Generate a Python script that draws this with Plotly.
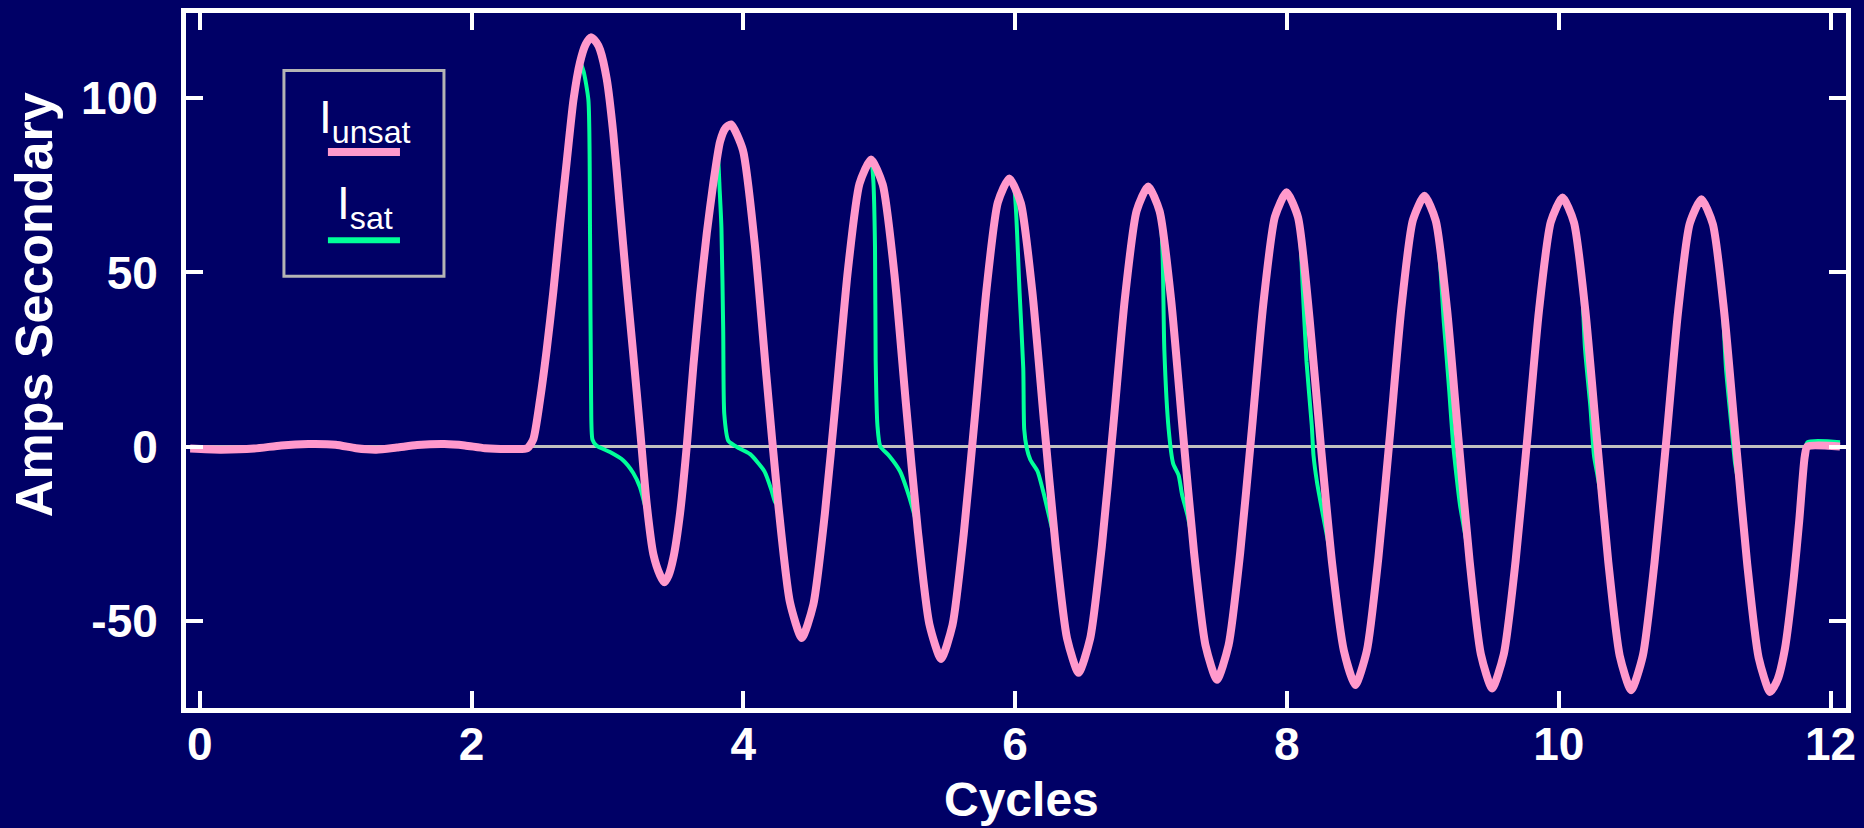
import plotly.graph_objects as go

# ---------------- data ----------------
# unsaturated secondary current (pink)
cycles_unsat = [
    -0.07, 0.15, 0.4, 0.6, 0.8, 1.0, 1.15, 1.3, 1.45, 1.6, 1.8, 1.95, 2.1, 2.3, 2.41,
    2.454, 2.504, 2.553, 2.602, 2.651, 2.70, 2.75, 2.798, 2.84, 2.878,
    2.92, 2.946, 2.995, 3.043, 3.092, 3.141, 3.19, 3.24, 3.289, 3.338, 3.387, 3.419,
    3.45, 3.485, 3.535, 3.584, 3.632, 3.681, 3.731, 3.779, 3.829, 3.87, 3.91,
    3.997, 4.083, 4.17, 4.257, 4.343, 4.43,
    4.515, 4.6, 4.685, 4.77, 4.855, 4.94,
    5.026, 5.112, 5.197, 5.283, 5.369, 5.455,
    5.539, 5.622, 5.706, 5.790, 5.873, 5.957,
    6.042, 6.127, 6.212, 6.297, 6.382, 6.467,
    6.552, 6.638, 6.723, 6.808, 6.894, 6.979,
    7.063, 7.148, 7.232, 7.316, 7.401, 7.485,
    7.570, 7.656, 7.741, 7.826, 7.912, 7.997,
    8.081, 8.166, 8.25, 8.334, 8.419, 8.503,
    8.588, 8.673, 8.758, 8.842, 8.927, 9.012,
    9.095, 9.178, 9.261, 9.344, 9.427, 9.51,
    9.596, 9.683, 9.769, 9.855, 9.942, 10.028,
    10.112, 10.196, 10.281, 10.365, 10.449, 10.533,
    10.619, 10.705, 10.792, 10.878, 10.964, 11.05,
    11.134, 11.218, 11.303, 11.387, 11.471, 11.555,
    11.61, 11.665, 11.73, 11.77, 11.81, 11.83, 12.07,
]
amps_unsat = [
    -0.6, -0.9, -0.6, 0.3, 0.7, 0.5, -0.5, -0.9, -0.3, 0.4, 0.7, 0.3, -0.5, -0.7, -0.5,
    2.0, 13.4, 27.7, 44.5, 63.6, 81.6, 99.5, 110.3, 115.5, 117.5,
    116.0, 113.9, 105.5, 90.0, 68.4, 46.9, 26.5, 5.0, -16.5, -30.9, -36.9, -39.0,
    -37.0, -32.0, -19.0, 0.2, 23.0, 43.3, 61.2, 75.6, 87.6, 91.5, 92.5,
    85.1, 58.6, 20.2, -16.6, -44.7, -55.0,
    -45.4, -19.3, 15.1, 50.8, 75.5, 82.4,
    75.2, 49.4, 12.1, -23.7, -51.0, -61.0,
    -51.3, -25.1, 9.4, 45.3, 70.1, 77.0,
    69.9, 44.3, 7.4, -28.1, -55.1, -65.0,
    -55.2, -28.7, 6.2, 42.6, 67.7, 74.7,
    67.6, 42.1, 5.3, -30.2, -57.1, -67.0,
    -57.2, -30.6, 4.4, 40.8, 66.0, 73.0,
    65.9, 37.0, 0.0, -34.0, -58.6, -68.5,
    -58.7, -32.0, 3.2, 39.7, 65.0, 72.0,
    64.9, 39.5, 2.7, -32.7, -59.6, -69.5,
    -59.6, -32.8, 2.4, 39.1, 64.5, 71.5,
    64.4, 39.0, 2.2, -33.2, -60.1, -70.0,
    -60.1, -33.3, 1.9, 38.6, 64.0, 71.0,
    63.9, 38.5, 1.7, -33.7, -60.6, -70.5,
    -67.0, -58.0, -37.6, -21.3, -3.0, 0.0, 0.0,
]

# saturated secondary current (green): where it departs from the unsaturated wave
sat_cycles_1 = [2.823, 2.86, 2.872, 2.88, 2.89, 2.921, 3.019, 3.117, 3.19, 3.24, 3.277, 3.30]
sat_amps_1 = [108.0, 99.5, 61.2, 13.4, 2.0, 0.2, -1.6, -4.0, -7.6, -11.7, -17.0, -20.0]
sat_cycles_2 = [3.812, 3.826, 3.839, 3.852, 3.86, 3.89, 3.97, 4.05, 4.155, 4.207, 4.235]
sat_amps_2 = [83.0, 73.6, 62.7, 33.3, 9.3, 1.6, -0.5, -2.2, -7.1, -12.5, -16.0]
sat_cycles_3 = [4.956, 4.969, 4.974, 4.987, 5.008, 5.074, 5.153, 5.205, 5.24]
sat_amps_3 = [76.9, 57.3, 24.5, 6.0, 0.0, -2.7, -7.1, -12.5, -17.0]
sat_cycles_4 = [5.99, 6.006, 6.033, 6.06, 6.067, 6.086, 6.112, 6.165, 6.204, 6.25]
sat_amps_4 = [75.0, 68.2, 44.2, 22.4, 4.9, -0.5, -3.8, -7.1, -12.5, -20.0]
sat_cycles_5 = [7.085, 7.098, 7.13, 7.163, 7.203, 7.228, 7.27]
sat_amps_5 = [55.1, 27.8, 4.9, -4.9, -8.2, -13.7, -20.0]
sat_cycles_6 = [8.118, 8.144, 8.183, 8.196, 8.222, 8.262]
sat_amps_6 = [44.2, 24.5, 6.0, -2.7, -10.4, -19.0]
sat_cycles_7 = [9.155, 9.195, 9.221, 9.247, 9.274]
sat_amps_7 = [35.5, 15.8, 1.6, -8.2, -16.9]
sat_cycles_8 = [10.17, 10.194, 10.233, 10.26, 10.285, 10.31]
sat_amps_8 = [46.0, 27.8, 11.5, -2.7, -8.2, -14.0]
sat_cycles_9 = [11.2, 11.231, 11.271, 11.298, 11.33]
sat_amps_9 = [44.0, 22.4, 6.0, -4.9, -12.0]
sat_cycles_end = [11.83, 12.07]
sat_amps_end = [1.2, 1.2]

x_ticks = [0, 2, 4, 6, 8, 10, 12]
x_tick_labels = ["0", "2", "4", "6", "8", "10", "12"]
y_ticks = [-50, 0, 50, 100]
y_tick_labels = ["-50", "0", "50", "100"]

# ---------------- build the saturated series ----------------
sat_segments = [
    (sat_cycles_1, sat_amps_1), (sat_cycles_2, sat_amps_2), (sat_cycles_3, sat_amps_3),
    (sat_cycles_4, sat_amps_4), (sat_cycles_5, sat_amps_5), (sat_cycles_6, sat_amps_6),
    (sat_cycles_7, sat_amps_7), (sat_cycles_8, sat_amps_8), (sat_cycles_9, sat_amps_9),
    (sat_cycles_end, sat_amps_end),
]
pts = list(zip(cycles_unsat, amps_unsat))
for sx, sy in sat_segments:
    lo, hi = sx[0], sx[-1]
    pts = [p for p in pts if p[0] < lo or p[0] > hi] + list(zip(sx, sy))
pts.sort()
cycles_sat = [p[0] for p in pts]
amps_sat = [p[1] for p in pts]

PINK = "#FF99CC"
GREEN = "#00FF99"
BG = "#000066"
FONT = "Liberation Sans, Arial, sans-serif"

fig = go.Figure()
fig.add_trace(go.Scatter(x=cycles_sat, y=amps_sat, mode="lines", name="Isat",
                         line=dict(color=GREEN, width=4, shape="spline", smoothing=0.6),
                         hoverinfo="skip"))
fig.add_trace(go.Scatter(x=cycles_unsat, y=amps_unsat, mode="lines", name="Iunsat",
                         line=dict(color=PINK, width=8, shape="spline", smoothing=0.6),
                         hoverinfo="skip"))

axis_common = dict(
    ticks="inside", ticklen=17, tickwidth=4, tickcolor="white",
    showline=True, linewidth=5, linecolor="white", mirror="ticks",
    showgrid=False,
    tickfont=dict(family=FONT, size=46, color="white", weight="bold"),
)

fig.update_layout(
    width=1864, height=828,
    margin=dict(l=186, r=18, t=8, b=120),
    paper_bgcolor=BG, plot_bgcolor=BG,
    showlegend=False,
    font=dict(family=FONT, color="white"),
    xaxis=dict(range=[-0.101, 12.114], tickmode="array", tickvals=x_ticks,
               ticktext=x_tick_labels, ticklabelstandoff=-8,
               zeroline=False, **axis_common),
    yaxis=dict(range=[-75.1, 124.5], tickmode="array", tickvals=y_ticks,
               ticktext=y_tick_labels, ticklabelstandoff=14,
               zeroline=True, zerolinecolor="#C0C0C0", zerolinewidth=3,
               **axis_common),
)

# axis titles
fig.add_annotation(text="Cycles", xref="paper", yref="paper", x=0.5036, y=-0.131,
                   showarrow=False, xanchor="center", yanchor="middle",
                   font=dict(family=FONT, size=48, color="white", weight="bold"))
fig.add_annotation(text="Amps Secondary", xref="paper", yref="paper", x=-0.0916, y=0.581,
                   showarrow=False, textangle=-90, xanchor="center", yanchor="middle",
                   font=dict(family=FONT, size=52, color="white", weight="bold"))

# custom legend
fig.add_shape(type="rect", xref="paper", yref="paper", x0=0.059, x1=0.1554, y0=0.6214, y1=0.9171,
              line=dict(color="#B4B4B4", width=3), fillcolor=BG)
fig.add_annotation(text="I<sub>unsat</sub>", xref="paper", yref="paper", x=0.1078, y=0.845,
                   showarrow=False, xanchor="center", yanchor="middle",
                   font=dict(family=FONT, size=46, color="white"))
fig.add_annotation(text="I<sub>sat</sub>", xref="paper", yref="paper", x=0.1078, y=0.721,
                   showarrow=False, xanchor="center", yanchor="middle",
                   font=dict(family=FONT, size=46, color="white"))
fig.add_shape(type="line", xref="paper", yref="paper", x0=0.0855, x1=0.1289, y0=0.800, y1=0.800,
              line=dict(color=PINK, width=8))
fig.add_shape(type="line", xref="paper", yref="paper", x0=0.0855, x1=0.1289, y0=0.673, y1=0.673,
              line=dict(color=GREEN, width=6))

fig.write_html("out.html", config={"displayModeBar": False},
               post_script="document.body.style.margin='0px';document.body.style.overflow='hidden';")
